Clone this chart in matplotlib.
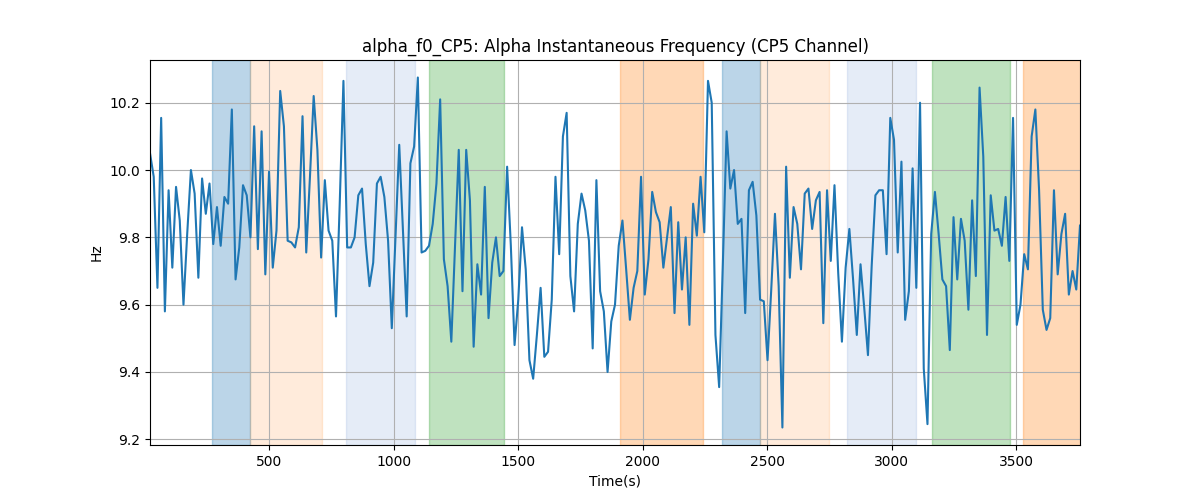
import numpy as np
import matplotlib
matplotlib.use("Agg")
import matplotlib.pyplot as plt

hz = [
    10.05, 9.98, 9.65, 10.155, 9.58, 9.94, 9.71, 9.95, 9.85, 9.60, 9.81, 10.0, 9.93, 9.68,
    9.975, 9.87, 9.96, 9.78, 9.89, 9.775, 9.92, 9.90, 10.18, 9.675, 9.77, 9.955, 9.925, 9.80,
    10.13, 9.765, 10.115, 9.69, 9.995, 9.71, 9.82, 10.235, 10.13, 9.79, 9.785, 9.77, 9.83,
    10.16, 9.755, 9.98, 10.22, 10.06, 9.74, 9.97, 9.82, 9.79, 9.565, 9.9, 10.265, 9.77, 9.77,
    9.80, 9.925, 9.945, 9.78, 9.655, 9.725, 9.96, 9.98, 9.92, 9.79, 9.53, 9.8, 10.075, 9.82,
    9.565, 10.02, 10.07, 10.275, 9.755, 9.76, 9.775, 9.84, 9.96, 10.21,
    9.735, 9.655, 9.49, 9.775, 10.06, 9.64, 10.06, 9.91, 9.475, 9.72, 9.63, 9.95, 9.56, 9.725,
    9.80, 9.685, 9.70, 10.01, 9.775, 9.48, 9.615, 9.83, 9.705, 9.435, 9.38, 9.51, 9.65, 9.445,
    9.46, 9.615, 9.98, 9.75, 10.10, 10.17, 9.685, 9.58, 9.84, 9.93, 9.88, 9.79, 9.47,
    9.97, 9.64, 9.58, 9.40, 9.55, 9.60, 9.775, 9.85, 9.705, 9.555, 9.65, 9.70, 9.98, 9.63,
    9.735, 9.935, 9.875, 9.845, 9.71, 9.80, 9.89, 9.575, 9.845, 9.645, 9.80, 9.54, 9.90, 9.805,
    9.98, 9.815, 10.265, 10.20, 9.51, 9.355, 9.725, 10.115, 9.945, 10.0, 9.84, 9.855,
    9.575, 9.94, 9.965, 9.865, 9.615, 9.61, 9.435, 9.645, 9.87, 9.655, 9.235, 10.01, 9.68, 9.89,
    9.84, 9.705, 9.93, 9.945, 9.825, 9.91, 9.935, 9.545, 9.94, 9.73, 9.955, 9.695, 9.49, 9.71,
    9.825, 9.675, 9.51, 9.72, 9.59, 9.45, 9.715, 9.925, 9.94, 9.94, 9.75, 10.155,
    10.09, 9.755, 10.025, 9.555, 9.64, 10.005, 9.65, 10.20, 9.41, 9.245, 9.81, 9.935, 9.81,
    9.675, 9.655, 9.465, 9.86, 9.675, 9.855, 9.79, 9.585, 9.91, 9.685, 10.245, 10.04, 9.51,
    9.925, 9.82, 9.825, 9.775, 9.92, 9.73, 10.155, 9.54, 9.60, 9.75, 9.705, 10.10, 10.18, 9.94,
    9.585, 9.525, 9.56, 9.94, 9.69, 9.81, 9.87, 9.63, 9.70, 9.645, 9.835,
]
t_start = 22.0
t_step = 14.94
t = t_start + t_step * np.arange(len(hz))

# shaded segments: (start, end, colour, alpha)
span_start = [271, 424, 809, 1143, 1910, 2319, 2472, 2821, 3163, 3528]
span_end = [424, 713, 1086, 1444, 2243, 2472, 2749, 3098, 3476, 3800]
span_color = ["tab:blue", "tab:orange", "#5280ca", "tab:green", "tab:orange",
              "tab:blue", "tab:orange", "#5280ca", "tab:green", "tab:orange"]
span_alpha = [0.3, 0.15, 0.15, 0.3, 0.3, 0.3, 0.15, 0.15, 0.3, 0.3]

fig, ax = plt.subplots(figsize=(12, 5), dpi=100)
for s, e, c, a in zip(span_start, span_end, span_color, span_alpha):
    ax.axvspan(s, e, color=c, alpha=a)
ax.plot(t, hz, color="tab:blue", linewidth=1.5)
ax.set_xlim(t[0], t[-1])
ax.set_title("alpha_f0_CP5: Alpha Instantaneous Frequency (CP5 Channel)")
ax.set_xlabel("Time(s)")
ax.set_ylabel("Hz")
ax.grid(True)
plt.savefig("out.png")
